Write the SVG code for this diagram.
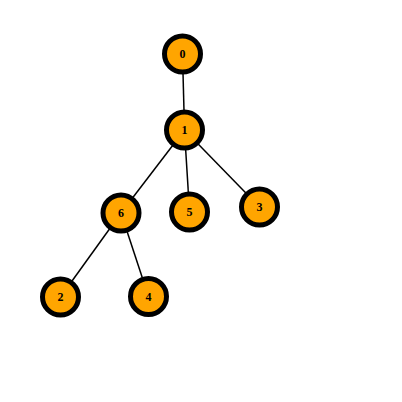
<svg xmlns="http://www.w3.org/2000/svg" width="402" height="402" viewBox="0 0 402 402">
<style>
.n circle{fill:#FFA500;stroke:#000;stroke-width:5}
.n text{font-family:"Liberation Serif",serif;font-size:12px;font-weight:bold;text-anchor:middle;dominant-baseline:central;fill:#000}
.e line{stroke:#000;stroke-width:1.5}
</style>
<rect width="402" height="402" fill="#fff"/>
<g id="edges" class="e">
<line x1="182.5" y1="54" x2="184.5" y2="130"/>
<line x1="184.5" y1="130" x2="121" y2="213"/>
<line x1="184.5" y1="130" x2="189.5" y2="212"/>
<line x1="184.5" y1="130" x2="259.5" y2="207"/>
<line x1="121" y1="213" x2="60.5" y2="297"/>
<line x1="121" y1="213" x2="148.5" y2="296.5"/>
</g>
<g id="node0" class="n"><circle cx="182.5" cy="54" r="18"/><text x="182.5" y="54">0</text></g>
<g id="node1" class="n"><circle cx="184.5" cy="130" r="18"/><text x="184.5" y="130">1</text></g>
<g id="node6" class="n"><circle cx="121" cy="213" r="18"/><text x="121" y="213">6</text></g>
<g id="node5" class="n"><circle cx="189.5" cy="212" r="18"/><text x="189.5" y="212">5</text></g>
<g id="node3" class="n"><circle cx="259.5" cy="207" r="18"/><text x="259.5" y="207">3</text></g>
<g id="node2" class="n"><circle cx="60.5" cy="297" r="18"/><text x="60.5" y="297">2</text></g>
<g id="node4" class="n"><circle cx="148.5" cy="296.5" r="18"/><text x="148.5" y="296.5">4</text></g>
</svg>
